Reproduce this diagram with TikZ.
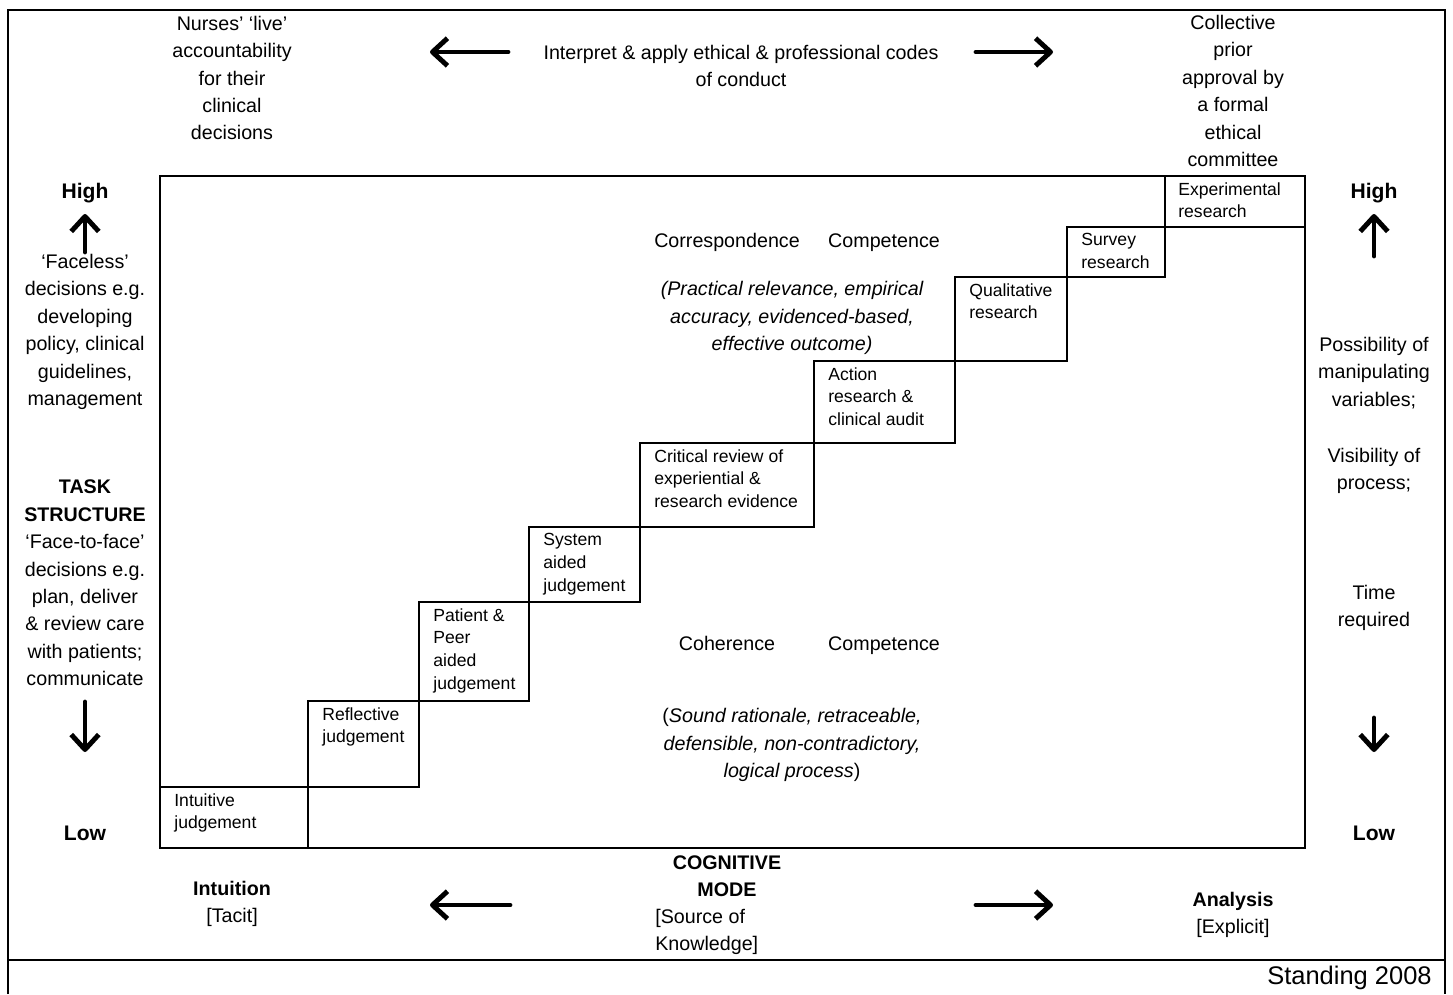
\documentclass[tikz,border=0pt]{standalone}
\usepackage{fontspec}
\setmainfont{Liberation Sans}
\usetikzlibrary{arrows.meta}

\begin{document}
\begin{tikzpicture}[x=0.02cm,y=-0.02cm,
    bigarrow/.style={line width=2.8pt,line cap=round,-{Straight Barb[length=3mm,width=5.5mm,line join=round]}},
    frame/.style={line width=1.4pt},
    txt/.style={align=center,inner sep=0pt,font=\fontsize{11.2}{15.6}\selectfont},
    hilo/.style={inner sep=0pt,font=\fontsize{12}{14}\selectfont\bfseries},
    stair/.style={anchor=north west,align=left,inner sep=0pt,font=\fontsize{10}{13}\selectfont}]
\useasboundingbox (0,0) rectangle (1453,994);
% outer frame and the box of the staircase
\draw[frame] (8,994) -- (8,10) -- (1445,10) -- (1445,994);
\draw[frame] (8,960) -- (1445,960);
\draw[frame] (160,176) rectangle (1305,848);
% the steps
\draw[frame] (160,787) rectangle (308,848);
\draw[frame] (308,701) rectangle (419,787);
\draw[frame] (419,602) rectangle (529,701);
\draw[frame] (529,527) rectangle (640,602);
\draw[frame] (640,443) rectangle (814,527);
\draw[frame] (814,361) rectangle (955,443);
\draw[frame] (955,277) rectangle (1067,361);
\draw[frame] (1067,227) rectangle (1165,277);
\draw[frame] (1165,176) rectangle (1305,227);
\node[stair] (intuitive) at (174,793) {Intuitive\\judgement};
\node[stair] (reflective) at (322,707) {Reflective\\judgement};
\node[stair] (patient) at (433,608) {Patient \&\\Peer\\aided\\judgement};
\node[stair] (system) at (543,533) {System\\aided\\judgement};
\node[stair] (critical) at (654,449) {Critical review of\\experiential \&\\research evidence};
\node[stair] (action) at (828,367) {Action\\research \&\\clinical audit};
\node[stair] (qualitative) at (969,283) {Qualitative\\research};
\node[stair] (survey) at (1081,233) {Survey\\research};
\node[stair] (experimental) at (1178,182) {Experimental\\research};

% top row
\node[txt] (nurses) at (232,78) {Nurses' `live'\\accountability\\for their\\clinical\\decisions};
\node[txt] (codes) at (741,66) {Interpret \& apply ethical \& professional codes\\of conduct};
\node[txt] (committee) at (1233,91) {Collective\\prior\\approval by\\a formal\\ethical\\committee};
\coordinate (tl1) at (508,52);
\coordinate (tl2) at (430,52);
\coordinate (tr1) at (976,52);
\coordinate (tr2) at (1053,52);
\draw[bigarrow] (tl1) -- (tl2);
\draw[bigarrow] (tr1) -- (tr2);

% left column
\node[hilo] (lhigh) at (85,193) {High};
\node[hilo] (llow) at (85,833) {Low};
\node[txt] (faceless) at (85,332) {`Faceless'\\decisions e.g.\\developing\\policy, clinical\\guidelines,\\management};
\node[txt] (task) at (85,583) {\textbf{TASK}\\\textbf{STRUCTURE}\\`Face-to-face'\\decisions e.g.\\plan, deliver\\\& review care\\with patients;\\communicate};
\coordinate (lu1) at (85,252);
\coordinate (lu2) at (85,214);
\coordinate (ld1) at (85,702);
\coordinate (ld2) at (85,752);
\draw[bigarrow] (lu1) -- (lu2);
\draw[bigarrow] (ld1) -- (ld2);

% right column
\node[hilo] (rhigh) at (1374,193) {High};
\node[hilo] (rlow) at (1374,833) {Low};
\node[txt] (possibility) at (1374,373) {Possibility of\\manipulating\\variables;};
\node[txt] (visibility) at (1374,471) {Visibility of\\process;};
\node[txt] (time) at (1374,608) {Time\\required};
\coordinate (ru1) at (1374,256);
\coordinate (ru2) at (1374,214);
\coordinate (rd1) at (1374,718);
\coordinate (rd2) at (1374,752);
\draw[bigarrow] (ru1) -- (ru2);
\draw[bigarrow] (rd1) -- (rd2);

% inside the box
\node[txt,anchor=base] (corr) at (727,247) {Correspondence};
\node[txt,anchor=base] (comp1) at (884,247) {Competence};
\node[txt,font=\fontsize{11.2}{15.6}\selectfont\itshape] (practical) at (792,318) {(Practical relevance, empirical\\accuracy, evidenced-based,\\effective outcome)};
\node[txt,anchor=base] (coh) at (727,650) {Coherence};
\node[txt,anchor=base] (comp2) at (884,650) {Competence};
\node[txt] (sound) at (792,745) {(\textit{Sound rationale, retraceable,}\\\textit{defensible, non-contradictory,}\\\textit{logical process})};

% bottom row
\node[txt] (intuition) at (232,904) {\textbf{Intuition}\\{}[Tacit]};
\node[txt] (cognitive) at (727,876) {\textbf{COGNITIVE}\\\textbf{MODE}};
\node[txt,anchor=west,align=left] (source) at (655,932) {[Source of\\Knowledge]};
\node[txt] (analysis) at (1233,915) {\textbf{Analysis}\\{}[Explicit]};
\coordinate (bl1) at (510,905);
\coordinate (bl2) at (430,905);
\coordinate (br1) at (976,905);
\coordinate (br2) at (1053,905);
\draw[bigarrow] (bl1) -- (bl2);
\draw[bigarrow] (br1) -- (br2);
\node[inner sep=0pt,anchor=east,font=\fontsize{14.5}{16}\selectfont] (standing) at (1432,978) {Standing 2008};
\end{tikzpicture}
\end{document}
